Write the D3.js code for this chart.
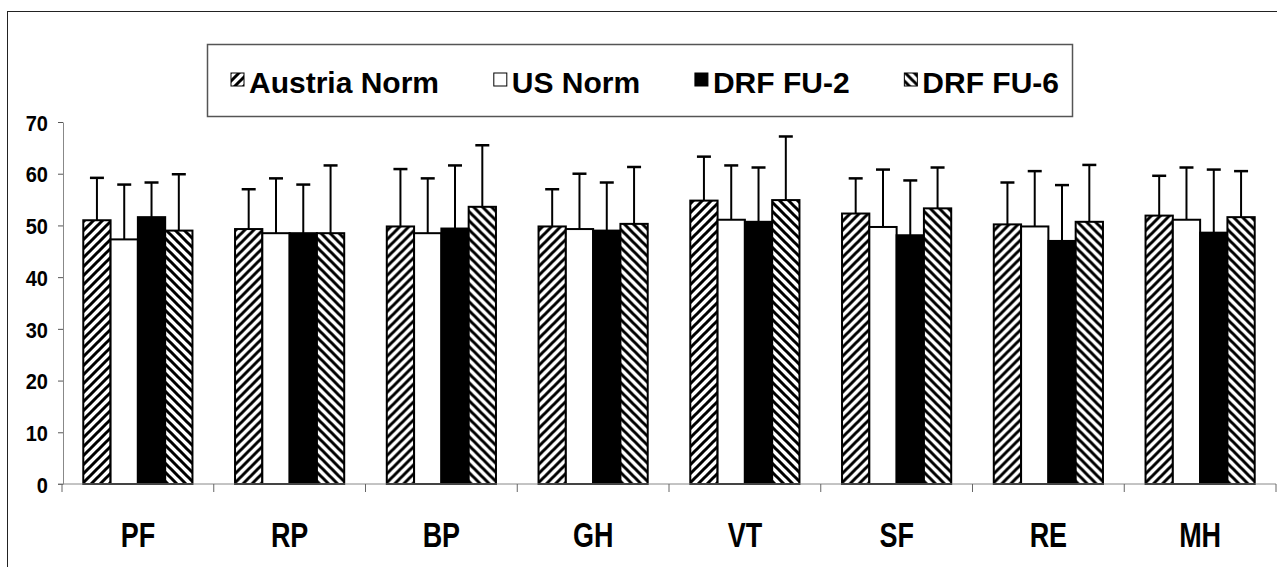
<!DOCTYPE html>
<html>
<head>
<meta charset="utf-8">
<script src="https://cdn.jsdelivr.net/npm/d3@7"></script>
<style>
  body { margin: 0; background: #fff; }
  text { font-family: "Liberation Sans", Arial, sans-serif; font-weight: bold; fill: #000; }
</style>
</head>
<body>
<div id="chart"></div>
<script>
// data
var categories = ["PF", "RP", "BP", "GH", "VT", "SF", "RE", "MH"];
var seriesNames = ["Austria Norm", "US Norm", "DRF FU-2", "DRF FU-6"];
var austria = [51.0, 49.3, 49.8, 49.8, 54.8, 52.3, 50.2, 51.9];
var austriaSD = [8.2, 7.7, 11.1, 7.2, 8.5, 6.8, 8.1, 7.7];
var usNorm = [47.3, 48.5, 48.5, 49.3, 51.1, 49.7, 49.8, 51.1];
var usNormSD = [10.6, 10.6, 10.6, 10.7, 10.5, 11.1, 10.7, 10.1];
var fu2 = [51.6, 48.5, 49.4, 49.0, 50.7, 48.1, 47.0, 48.6];
var fu2SD = [6.7, 9.4, 12.2, 9.3, 10.5, 10.6, 10.8, 12.2];
var fu6 = [49.0, 48.5, 53.6, 50.3, 54.9, 53.3, 50.7, 51.6];
var fu6SD = [10.9, 13.1, 11.9, 11.0, 12.3, 7.9, 11.0, 8.9];
var yTicks = [0, 10, 20, 30, 40, 50, 60, 70];

var values = [austria, usNorm, fu2, fu6];
var sds = [austriaSD, usNormSD, fu2SD, fu6SD];
var fills = ["url(#hatchUp)", "#fff", "#000", "url(#hatchDown)"];

var W = 1277, H = 567;
var svg = d3.select("#chart").append("svg")
    .attr("width", W)
    .attr("height", H);

// hatch patterns
var defs = svg.append("defs");
defs.append("pattern")
    .attr("id", "hatchUp")
    .attr("patternUnits", "userSpaceOnUse")
    .attr("width", 9).attr("height", 9)
    .call(function (p) {
        p.append("rect").attr("width", 9).attr("height", 9).attr("fill", "#fff");
        p.append("path").attr("d", "M-2,2 L2,-2 M0,9 L9,0 M7,11 L11,7")
            .attr("stroke", "#000").attr("stroke-width", 3);
    });
defs.append("pattern")
    .attr("id", "hatchDown")
    .attr("patternUnits", "userSpaceOnUse")
    .attr("width", 9).attr("height", 9)
    .call(function (p) {
        p.append("rect").attr("width", 9).attr("height", 9).attr("fill", "#fff");
        p.append("path").attr("d", "M-2,7 L2,11 M0,0 L9,9 M7,-2 L11,2")
            .attr("stroke", "#000").attr("stroke-width", 3);
    });

// outer frame
svg.append("rect")
    .attr("x", 7.5).attr("y", 11.5)
    .attr("width", 1400).attr("height", 700)
    .attr("fill", "none").attr("stroke", "#222").attr("stroke-width", 1);

// scales
var x0 = d3.scaleBand()
    .domain(categories)
    .range([62, 1276]);
var x1 = d3.scaleBand()
    .domain(d3.range(seriesNames.length))
    .range([0, x0.bandwidth()])
    .paddingOuter(0.78);
var y = d3.scaleLinear()
    .domain([0, 70])
    .range([484, 122]);

// Y axis
var yAxis = svg.append("g")
    .attr("transform", "translate(63,0)")
    .call(d3.axisLeft(y).tickValues(yTicks).tickSize(5).tickSizeOuter(0).tickPadding(10));
yAxis.select(".domain").attr("stroke", "#888");
yAxis.selectAll(".tick line").attr("stroke", "#555");
// labels are a condensed bold face: stretch vertically around the tick
yAxis.selectAll(".tick text")
    .attr("font-family", null)
    .attr("font-size", null)
    .style("font-size", "20px")
    .attr("dy", "0.36em")
    .attr("transform", "scale(1,1.14)");

// bars
var groups = svg.selectAll(".grp")
    .data(categories)
    .enter().append("g")
    .attr("class", "grp")
    .attr("transform", function (d) { return "translate(" + x0(d) + ",0)"; });

groups.each(function (cat, ci) {
    var g = d3.select(this);
    seriesNames.forEach(function (s, si) {
        var v = values[si][ci];
        var sd = sds[si][ci];
        var bx = x1(si), bw = x1.bandwidth();
        var cx = bx + bw / 2;
        // error bar (upper only)
        g.append("line")
            .attr("x1", cx).attr("x2", cx)
            .attr("y1", y(v)).attr("y2", y(v + sd))
            .attr("stroke", "#000").attr("stroke-width", 2);
        g.append("line")
            .attr("x1", cx - 7).attr("x2", cx + 7)
            .attr("y1", y(v + sd)).attr("y2", y(v + sd))
            .attr("stroke", "#000").attr("stroke-width", 2.5);
        g.append("rect")
            .attr("x", bx).attr("y", y(v))
            .attr("width", bw).attr("height", y(0) - y(v))
            .attr("fill", fills[si])
            .attr("stroke", "#000").attr("stroke-width", 2);
    });
});

// X axis
var xAxisG = svg.append("g").attr("transform", "translate(0,484)");
xAxisG.append("line")
    .attr("x1", 58).attr("x2", 1276)
    .attr("stroke", "#888").attr("stroke-width", 1);
var bounds = categories.map(function (c) { return x0(c); }).concat([x0.range()[1]]);
xAxisG.selectAll(".xt")
    .data(bounds)
    .enter().append("line")
    .attr("x1", function (d) { return d; })
    .attr("x2", function (d) { return d; })
    .attr("y1", 0).attr("y2", 8)
    .attr("stroke", "#666");
xAxisG.selectAll(".xl")
    .data(categories)
    .enter().append("text")
    .attr("text-anchor", "middle")
    .style("font-size", "27px")
    .attr("transform", function (d) {
        return "translate(" + (x0(d) + x0.bandwidth() / 2) + ",63) scale(1,1.33)";
    })
    .text(function (d) { return d; });

// legend
var legend = svg.append("g");
legend.append("rect")
    .attr("x", 207.5).attr("y", 44.5)
    .attr("width", 865).attr("height", 72)
    .attr("fill", "#fff").attr("stroke", "#555").attr("stroke-width", 1.5);

var items = legend.selectAll(".li")
    .data(seriesNames)
    .enter().append("g")
    .attr("class", "li");
items.append("rect")
    .attr("width", 13).attr("height", 13)
    .attr("y", 73)
    .attr("fill", function (d, i) { return fills[i]; })
    .attr("stroke", "#000").attr("stroke-width", 1);
items.append("text")
    .attr("x", 18)
    .attr("y", 93)
    .style("font-size", "30px")
    .text(function (d) { return d; });

// spread the entries evenly between the first swatch and the last label
var widths = [];
items.each(function () {
    widths.push(18 + d3.select(this).select("text").node().getComputedTextLength());
});
var startX = 231, endX = 1059;
var gap = (endX - startX - d3.sum(widths)) / (widths.length - 1);
var cur = startX;
items.attr("transform", function (d, i) {
    var t = "translate(" + cur + ",0)";
    cur += widths[i] + gap;
    return t;
});
</script>
</body>
</html>
